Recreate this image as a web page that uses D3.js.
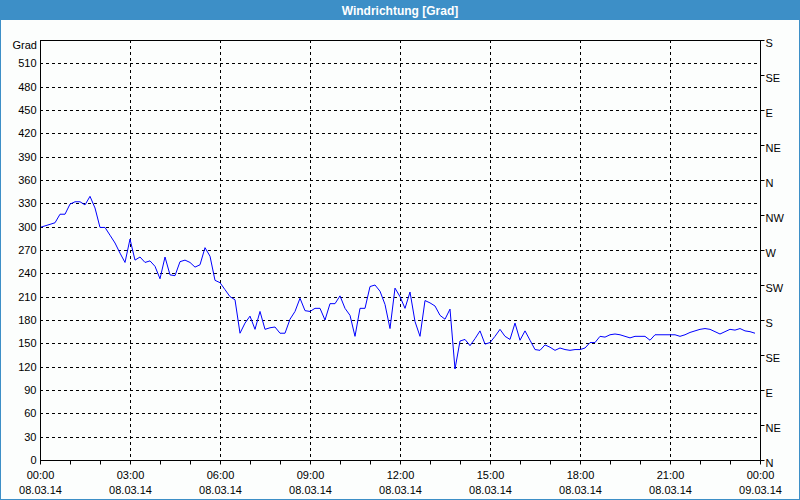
<!DOCTYPE html>
<html><head><meta charset="utf-8">
<script src="https://cdn.jsdelivr.net/npm/d3@7"></script>
<style>
html,body{margin:0;padding:0;background:#fcfefd;}
svg{display:block;font-family:"Liberation Sans",Arial,sans-serif;}
</style></head>
<body><svg id="c" width="800" height="500"></svg>
<script>
// ---- data ----
const title = "Windrichtung [Grad]";
const unitLabel = "Grad";
const startTime = "2014-03-08T00:00";
const stepMinutes = 10;
const direction = [
 299,301,303,305,316,316,329,332,332,328,339,324,299,299,289,279,266,254,284,257,
 261,254,256,249,233,261,238,237,255,257,254,248,251,273,262,231,228,219,210,206,
 163,176,185,168,191,168,170,171,163,163,181,191,208,192,191,195,195,180,201,201,
 211,195,186,159,195,195,223,225,217,200,169,221,210,195,216,178,159,205,202,198,
 186,181,194,117,153,155,147,156,166,149,151,159,168,159,155,176,154,166,154,142,
 141,148,145,141,144,142,141,142,142,144,151,151,159,158,161,162,161,159,157,159,
 159,159,154,161,161,161,161,161,159,161,164,166,168,169,168,165,162,165,168,167,
 169,166,165,163
];
const leftTicks = [0,30,60,90,120,150,180,210,240,270,300,330,360,390,420,450,480,510];
const rightTicks = [0,45,90,135,180,225,270,315,360,405,450,495,540];
const rightLabels = ["N","NE","E","SE","S","SW","W","NW","N","NE","E","SE","S"];
const xTickHours = [0,3,6,9,12,15,18,21,24];

// ---- layout ----
const W = 800, H = 500;
const m = {l:40, t:40, r:760, b:460};
const svg = d3.select("#c");
const parse = d3.timeParse("%Y-%m-%dT%H:%M");
const t0 = parse(startTime);
const t1 = d3.timeHour.offset(t0, 24);
const data = direction.map((v,i)=>({t:d3.timeMinute.offset(t0, i*stepMinutes), v}));

const x = d3.scaleTime().domain([t0,t1]).range([m.l,m.r]);
const y = d3.scaleLinear().domain([0,540]).range([m.b,m.t]);

// background
svg.append("rect").attr("x",0).attr("y",0).attr("width",W).attr("height",H).attr("fill","#fcfefd");
// title bar
svg.append("rect").attr("x",0).attr("y",0).attr("width",W).attr("height",20).attr("fill","#3d8fc7");
svg.append("rect").attr("x",0.5).attr("y",0.5).attr("width",W-1).attr("height",H-1)
  .attr("fill","none").attr("stroke","#3d8fc7");
svg.append("text").attr("x",W/2).attr("y",14.5).attr("text-anchor","middle")
  .attr("fill","#fff").attr("font-weight","bold").attr("font-size","12px").text(title);

// grid
const g = svg.append("g");
g.selectAll("line.h").data(leftTicks.filter(d=>d>0)).join("line")
  .attr("x1",m.l).attr("x2",m.r)
  .attr("y1",d=>Math.round(y(d))+0.5).attr("y2",d=>Math.round(y(d))+0.5)
  .attr("stroke","#000").attr("stroke-dasharray","3,3");
const hourTicks = xTickHours.map(h=>d3.timeHour.offset(t0,h));
g.selectAll("line.v").data(hourTicks.slice(1,-1)).join("line")
  .attr("y1",m.t).attr("y2",m.b)
  .attr("x1",d=>Math.round(x(d))+0.5).attr("x2",d=>Math.round(x(d))+0.5)
  .attr("stroke","#000").attr("stroke-dasharray","3,3");

// data line
const line = d3.line().x(d=>x(d.t)).y(d=>y(d.v));
svg.append("path").datum(data).attr("d",line).attr("fill","none")
  .attr("stroke","#0000ff").attr("stroke-width",1);

// frame
svg.append("rect").attr("x",m.l+0.5).attr("y",m.t+0.5).attr("width",m.r-m.l).attr("height",m.b-m.t)
  .attr("fill","none").attr("stroke","#000");

// left axis
const la = svg.append("g").attr("transform",`translate(${m.l+0.5},0)`)
  .call(d3.axisLeft(y).tickValues(leftTicks).tickSize(0).tickPadding(4));
la.select(".domain").remove();
la.selectAll("text").attr("font-size","11px").attr("fill","#000").attr("font-family","Liberation Sans, Arial, sans-serif");
svg.append("text").attr("x",37).attr("y",49).attr("text-anchor","end").attr("font-size","11px").text(unitLabel);

// right axis
const ra = svg.append("g").attr("transform",`translate(${m.r+0.5},0)`)
  .call(d3.axisRight(y).tickValues(rightTicks).tickSize(4).tickPadding(1)
    .tickFormat((d,i)=>rightLabels[i]));
ra.select(".domain").remove();
ra.selectAll("line").attr("stroke","#000");
ra.selectAll("text").attr("font-size","11px").attr("fill","#000").attr("dy","0.62em")
  .attr("font-family","Liberation Sans, Arial, sans-serif");

// bottom axis
const ba = svg.append("g").attr("transform",`translate(0,${m.b+0.5})`)
  .call(d3.axisBottom(x).ticks(d3.timeHour.every(1)).tickSize(4).tickFormat(""));
ba.select(".domain").remove();
ba.selectAll("line").attr("stroke","#000");
const fmtT = d3.timeFormat("%H:%M"), fmtD = d3.timeFormat("%d.%m.%y");
const lab = svg.append("g").selectAll("g").data(hourTicks.filter((d,i)=>i%1===0)).join("g")
  .attr("transform",d=>`translate(${Math.round(x(d))+0.5},0)`);
lab.append("text").attr("y",479).attr("text-anchor","middle").attr("font-size","11px").text(d=>fmtT(d));
lab.append("text").attr("y",494).attr("text-anchor","middle").attr("font-size","11px").text(d=>fmtD(d));
</script></body></html>
